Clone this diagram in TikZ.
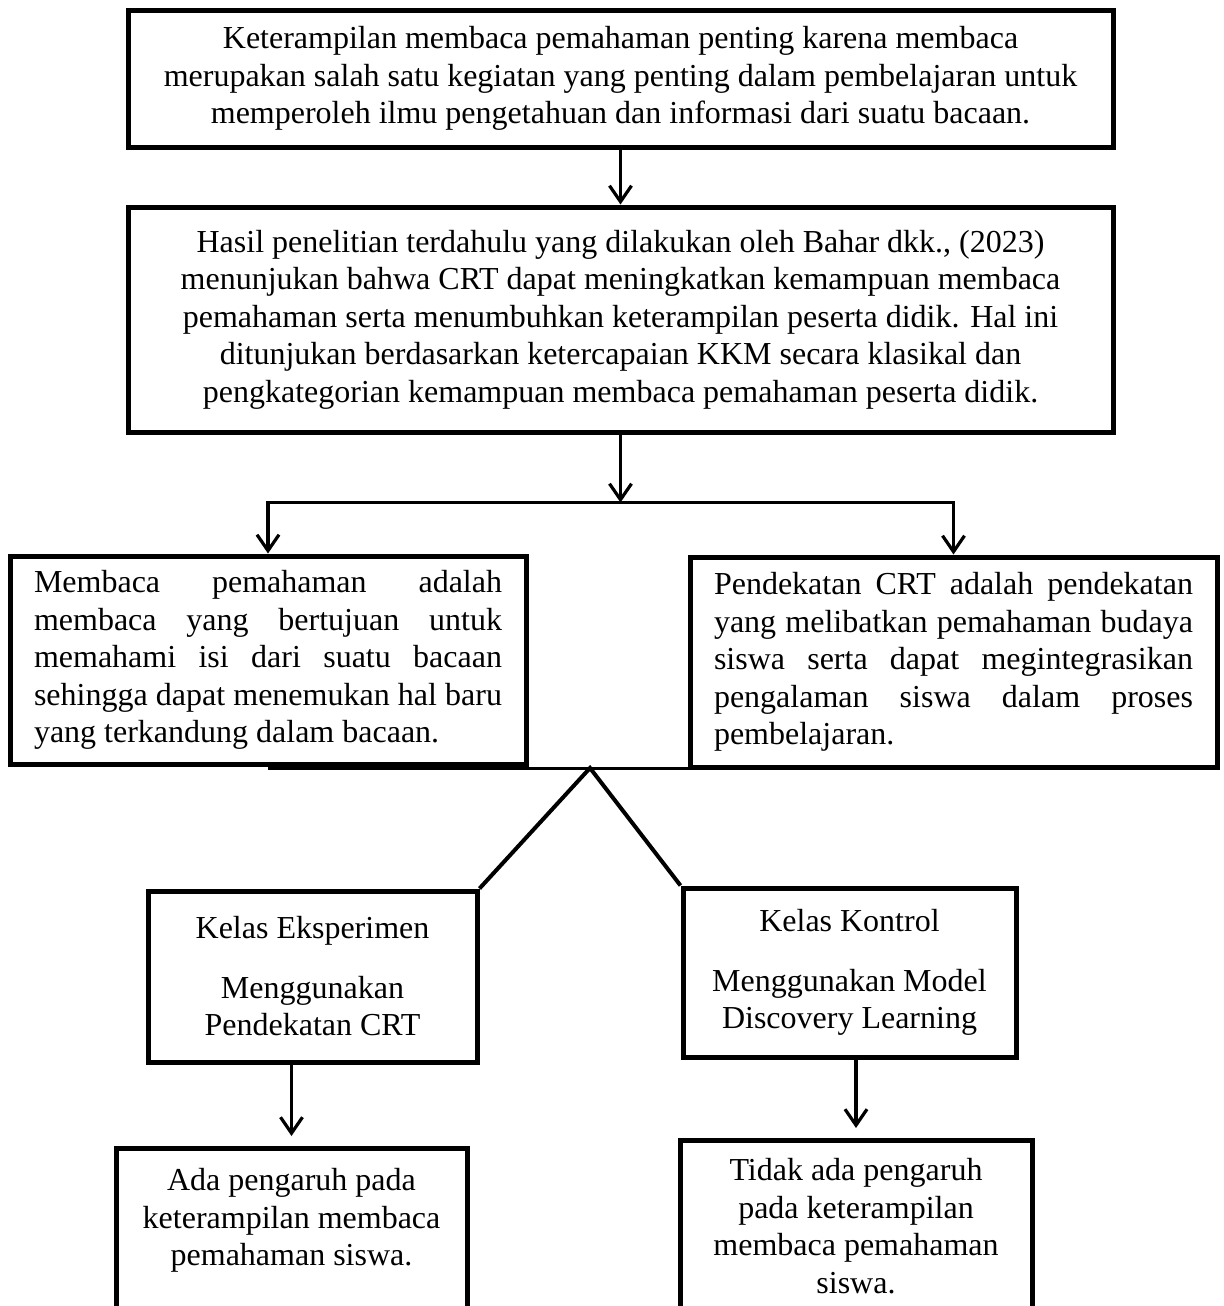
\documentclass[tikz,border=0pt]{standalone}
\usepackage{fontspec}
\setmainfont{Liberation Serif}
\usetikzlibrary{arrows.meta,positioning,calc}
\newcommand{\bodysize}{\fontsize{16pt}{18.75pt}\selectfont}
\tikzset{
  box/.style={draw=black, line width=2.5pt, inner sep=0pt, align=center, font=\bodysize},
  jbox/.style={box, align=justify},
  flowarr/.style={-{Straight Barb[length=8pt,width=11pt]}, line width=1.6pt},
  branch/.style={line width=1.5pt},
  slant/.style={line width=2pt},
}

\begin{document}
\begin{tikzpicture}[x=0.5pt,y=-0.5pt]
  \clip (0,0) rectangle (1224,1306);
  % upper chain
  \node[box, minimum width=492.5pt, minimum height=68.5pt] (ket) at (620.5,78.5)
    {Keterampilan membaca pemahaman penting karena membaca\\
     merupakan salah satu kegiatan yang penting dalam pembelajaran untuk\\
     memperoleh ilmu pengetahuan dan informasi dari suatu bacaan.};
  \node[box, minimum width=492.5pt, minimum height=112.5pt] (hasil) at (620.5,319.5)
    {Hasil penelitian terdahulu yang dilakukan oleh Bahar dkk., (2023)\\
     menunjukan bahwa CRT dapat meningkatkan kemampuan membaca\\
     pemahaman serta menumbuhkan keterampilan peserta didik. Hal ini\\
     ditunjukan berdasarkan ketercapaian KKM secara klasikal dan\\
     pengkategorian kemampuan membaca pemahaman peserta didik.};
  % two definitions
  \node[jbox, text width=234pt, minimum width=258pt, minimum height=104pt] (membaca) at (268,660)
    {Membaca pemahaman adalah\linebreak
     membaca yang bertujuan untuk\linebreak
     memahami isi dari suatu bacaan\linebreak
     sehingga dapat menemukan hal baru\linebreak
     yang terkandung dalam bacaan.};
  \node[jbox, text width=239.5pt, minimum width=263.5pt, minimum height=105pt] (crt) at (953.5,662)
    {Pendekatan CRT adalah pendekatan\linebreak
     yang melibatkan pemahaman budaya\linebreak
     siswa serta dapat megintegrasikan\linebreak
     pengalaman siswa dalam proses\linebreak
     pembelajaran.};
  % classes
  \node[box, minimum width=164.5pt, minimum height=85.5pt] (eksperimen) at (312.5,976.5)
    {Kelas Eksperimen\\[11pt]Menggunakan\\Pendekatan CRT};
  \node[box, minimum width=166.5pt, minimum height=84.5pt] (kontrol) at (849.5,972.5)
    {Kelas Kontrol\\[11pt]Menggunakan Model\\Discovery Learning};
  % results (run past the lower edge)
  \node[box, anchor=north, minimum width=175.5pt, inner ysep=10pt] (ada) at (291.5,1146)
    {Ada pengaruh pada\\keterampilan membaca\\pemahaman siswa.\\[40pt]\strut};
  \node[box, anchor=north, minimum width=176pt, inner ysep=9pt] (tidak) at (856,1138)
    {Tidak ada pengaruh\\pada keterampilan\\membaca pemahaman\\siswa.\\[30pt]\strut};

  \coordinate (fork) at ($(hasil.south)+(0,68)$);
  \coordinate (apex) at (590,768);
  \draw[flowarr] (ket.south) -- (hasil.north);
  \draw[flowarr] (hasil.south) -- (fork);
  \draw[flowarr] (fork) -| (membaca.north);
  \draw[flowarr] (fork) -| (crt.north);
  \draw[branch] (membaca.south |- apex) -- (crt.south |- apex);
  \draw[slant] (eksperimen.north east) -- (apex) -- (kontrol.north west);
  \draw[flowarr, shorten >=5pt] (ada.north |- eksperimen.south) -- (ada.north);
  \draw[flowarr, shorten >=5pt] (tidak.north |- kontrol.south) -- (tidak.north);
\end{tikzpicture}
\end{document}
